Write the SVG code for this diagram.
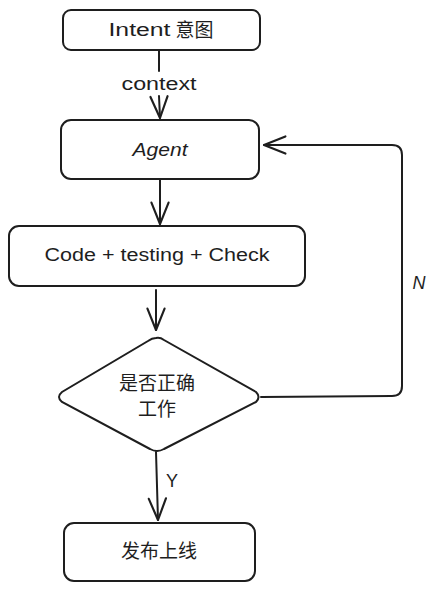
<svg xmlns="http://www.w3.org/2000/svg" width="436" height="590" viewBox="0 0 436 590">
<style>
.box{fill:#fff;stroke:#1e1e1e;stroke-width:2}
.ln{fill:none;stroke:#1e1e1e;stroke-width:2;stroke-linecap:round;stroke-linejoin:round}
.t{font-family:"Liberation Sans","Noto Sans CJK SC",sans-serif;fill:#1e1e1e;text-anchor:middle;dominant-baseline:central}
.lat{font-size:18px}
.cjk{font-size:19px}
</style>
<defs>
<marker id="ah" markerUnits="userSpaceOnUse" markerWidth="30" markerHeight="30" viewBox="-24 -12 28 24" refX="0" refY="0" orient="auto">
<path d="M-20,-8 L0,0 L-20,8" fill="none" stroke="#1e1e1e" stroke-width="2" stroke-linecap="round" stroke-linejoin="round"/>
</marker>
</defs>
<rect width="436" height="590" fill="#fff"/>
<g id="connectors">
<line class="ln" x1="159" y1="50" x2="159" y2="71"/>
<line class="ln" x1="159" y1="96" x2="160" y2="118" marker-end="url(#ah)"/>
<line class="ln" x1="160" y1="180" x2="160" y2="224" marker-end="url(#ah)"/>
<line class="ln" x1="156" y1="290" x2="156" y2="330" marker-end="url(#ah)"/>
<path class="ln" d="M261,397 L392,396 Q402,396 402,386 L402,155 Q402,145 392,145 L264,145" marker-end="url(#ah)"/>
<line class="ln" x1="156" y1="452" x2="158" y2="520" marker-end="url(#ah)"/>
<text class="t lat" x="159" y="84" textLength="75" lengthAdjust="spacingAndGlyphs">context</text>
<text class="t lat" x="419" y="283" font-style="italic">N</text>
<text class="t lat" x="172" y="481">Y</text>
</g>
<g id="intent">
<rect class="box" x="63" y="10" width="197" height="40" rx="8"/>
<text class="t lat" x="161" y="30"><tspan textLength="62" lengthAdjust="spacingAndGlyphs">Intent</tspan> <tspan class="cjk">意图</tspan></text>
</g>
<g id="agent">
<rect class="box" x="61" y="120" width="198" height="59" rx="10"/>
<text class="t lat" x="160" y="150" font-style="italic" textLength="55" lengthAdjust="spacingAndGlyphs">Agent</text>
</g>
<g id="code">
<rect class="box" x="9" y="226" width="296" height="60" rx="10"/>
<text class="t lat" x="157" y="255" textLength="225" lengthAdjust="spacingAndGlyphs">Code + testing + Check</text>
</g>
<g id="decision">
<path class="box" d="M156,338 Q160,337 164,340 L256,392 Q261,397 256,402 L164,449 Q157,453 150,449 L62,402 Q56,397 62,392 L148,341 Q152,338 156,338 Z"/>
<text class="t cjk" x="157" y="383">是否正确</text>
<text class="t cjk" x="157" y="409">工作</text>
</g>
<g id="release">
<rect class="box" x="64" y="523" width="191" height="58" rx="10"/>
<text class="t cjk" x="159" y="551">发布上线</text>
</g>
</svg>
